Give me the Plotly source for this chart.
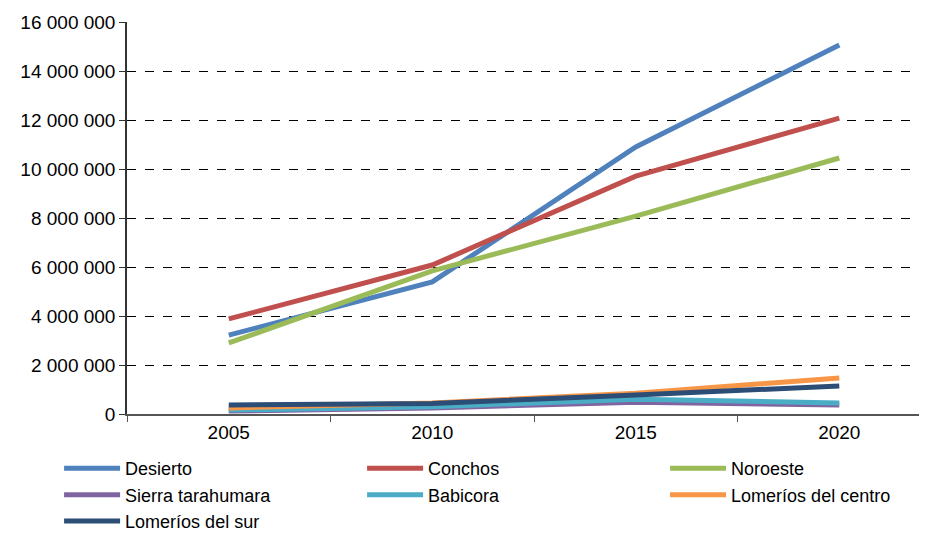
import plotly.graph_objects as go

years = ["2005", "2010", "2015", "2020"]
desierto = [3220000, 5390000, 10900000, 15060000]
conchos = [3880000, 6080000, 9710000, 12080000]
noroeste = [2900000, 5840000, 8080000, 10450000]
sierra_tarahumara = [120000, 250000, 480000, 370000]
babicora = [160000, 300000, 600000, 450000]
lomerios_centro = [250000, 450000, 850000, 1470000]
lomerios_sur = [370000, 430000, 780000, 1140000]

series = [
    ("Desierto", desierto, "#4F81BD"),
    ("Conchos", conchos, "#C0504D"),
    ("Noroeste", noroeste, "#9BBB59"),
    ("Sierra tarahumara", sierra_tarahumara, "#8064A2"),
    ("Babicora", babicora, "#4BACC6"),
    ("Lomeríos del centro", lomerios_centro, "#F79646"),
    ("Lomeríos del sur", lomerios_sur, "#2C4D75"),
]

fig = go.Figure()
for name, vals, color in series:
    fig.add_trace(go.Scatter(x=years, y=vals, name=name, mode="lines",
                             line=dict(color=color, width=5)))

fig.update_layout(
    width=919, height=526,
    margin=dict(l=119, r=1, t=14, b=120, autoexpand=False),
    paper_bgcolor="white", plot_bgcolor="white",
    font=dict(family="Arial, Liberation Sans, sans-serif", size=19, color="black"),
    separators=", ",
    showlegend=True,
    legend=dict(orientation="h", x=-0.085, xanchor="left", y=-0.092, yanchor="top",
                entrywidth=232, entrywidthmode="pixels",
                font=dict(size=18), tracegroupgap=0, itemwidth=56,
                traceorder="normal", bgcolor="rgba(0,0,0,0)"),
)
fig.update_xaxes(type="category", range=[-0.5, 3.426], tickson="boundaries",
                 ticks="outside", ticklen=6, tickcolor="#555", showline=True,
                 linecolor="#555", linewidth=2, showgrid=False, zeroline=False,
                 tickfont=dict(size=19))
fig.update_yaxes(range=[0, 16000000], dtick=2000000, tickformat=",d",
                 ticks="outside", ticklen=6, tickcolor="#333", showline=True,
                 linecolor="#333", linewidth=1.5, showgrid=True,
                 gridcolor="black", griddash="dash", gridwidth=1, zeroline=False,
                 tickfont=dict(size=19))

fig.write_html("out.html")
